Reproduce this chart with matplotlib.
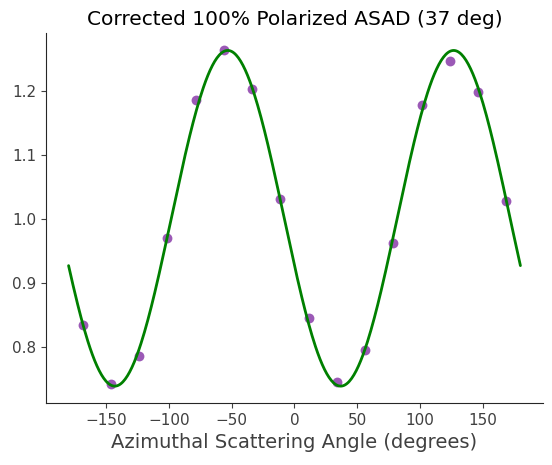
import numpy as np
import matplotlib
matplotlib.use("Agg")
import matplotlib.pyplot as plt
import seaborn as sns

# bin centres of the azimuthal scattering angle (degrees)
angles = [-168.75, -146.25, -123.75, -101.25, -78.75, -56.25, -33.75, -11.25,
          11.25, 33.75, 56.25, 78.75, 101.25, 123.75, 146.25, 168.75]
# corrected normalised counts
counts = [0.834, 0.742, 0.786, 0.970, 1.186, 1.264, 1.203, 1.032,
          0.846, 0.746, 0.796, 0.962, 1.178, 1.247, 1.198, 1.028]

title = "Corrected 100% Polarized ASAD (37 deg)"
xlabel = "Azimuthal Scattering Angle (degrees)"

sns.set_style("ticks")

fig = plt.figure(figsize=(5.52, 4.65), dpi=100)
ax = fig.add_axes([0.0833, 0.1333, 0.9004, 0.7957])

# least squares fit of a + b cos(2phi) + c sin(2phi) to the measured points
phi = np.radians(angles)
design = np.column_stack([np.ones_like(phi), np.cos(2 * phi), np.sin(2 * phi)])
coef, *_ = np.linalg.lstsq(design, np.array(counts), rcond=None)
fit_x = np.linspace(-180, 180, 400)
fr = np.radians(fit_x)
fit_y = coef[0] + coef[1] * np.cos(2 * fr) + coef[2] * np.sin(2 * fr)

ax.scatter(angles, counts, s=50, color="#9b59b6", zorder=2, linewidths=0)
ax.plot(fit_x, fit_y, color="green", lw=2, zorder=3)

ax.set_xlim(-198, 198)
ax.set_ylim(0.7125, 1.2906)
ax.set_xticks([-150, -100, -50, 0, 50, 100, 150])
ax.set_yticks([0.8, 0.9, 1.0, 1.1, 1.2])
ax.tick_params(labelsize=11, colors=".25")
ax.set_xlabel(xlabel, fontsize=14, color=".25")
ax.set_title(title, fontsize=14.5, color="black")
sns.despine(ax=ax)

fig.savefig("out.png", dpi=100)
